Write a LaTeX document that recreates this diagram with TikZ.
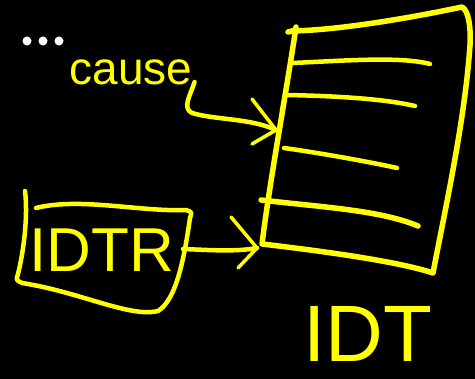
\documentclass[tikz,border=0pt]{standalone}
\usepackage{fontspec}
\setmainfont{Liberation Sans}
\usetikzlibrary{calc}
\definecolor{hl}{HTML}{FFFF00}
\begin{document}
\begin{tikzpicture}[x=1pt,y=-1pt,line cap=round,line join=round,
  ink/.style={draw=hl,line width=5.5pt},
  thin ink/.style={draw=hl,line width=4.5pt},
  wing/.style={draw=hl,line width=3.5pt},
  label/.style={text=hl,inner sep=0pt}]
\fill[black] (0,0) rectangle (475,379);
\useasboundingbox (0,0) rectangle (475,379);
% dots
\fill[white] (27,41) circle (4.5pt) (43,41) circle (4.5pt) (59,41) circle (4.5pt);
% table corners
\coordinate (ttop) at (296,27);
\coordinate (tl) at (288,32);
\coordinate (tr) at (462,7);
\coordinate (br) at (433,273);
\coordinate (bl) at (262,244);
\coordinate (tipA) at (276,130);
\coordinate (tipB) at (257,248);
% table outline
\draw[ink] (tl) -- (292,31) .. controls (340,30) and (410,18) .. (tr)
  .. controls (468,10) and (471,25) .. (470,45)
  .. controls (465,120) and (445,210) .. (br)
  .. controls (400,262) and (330,252) .. (bl)
  .. controls (270,180) and (285,100) .. (ttop);
% rows
\draw[thin ink] (292,63) .. controls (340,61) and (400,56) .. (430,64);
\draw[thin ink] (288,95) .. controls (330,96) and (380,98) .. (415,106);
\draw[thin ink] (284,148) .. controls (320,153) and (370,162) .. (397,168);
\draw[ink] (261,200) .. controls (320,207) and (380,210) .. (418,226);
% labels
\node[label,font=\fontsize{46}{46}\selectfont] (cause) at (131,72) {cause};
\node[label,font=\fontsize{62}{62}\selectfont] (idtr) at (102,250) {IDTR};
\node[label,font=\fontsize{80}{80}\selectfont] (idt) at (368,334) {IDT};
% cause arrow
\coordinate (causeEnd) at ($(cause.east)+(2,10)$);
\draw[thin ink] (causeEnd) .. controls (190,96) and (182,108) .. (192,113)
  .. controls (215,120) and (250,118) .. (tipA);
\draw[wing] (252,99) -- (tipA) -- (252,144);
% IDTR box
\draw[thin ink] (36,208) .. controls (80,197) and (140,212) .. (186,210)
  .. controls (192,212) .. (190,218)
  .. controls (184,260) and (176,300) .. (158,311)
  .. controls (130,318) and (80,292) .. (22,283)
  .. controls (16,280) .. (18,274)
  .. controls (24,250) and (28,215) .. (25,191);
\coordinate (boxR) at (183,249);
\draw[thin ink] (boxR) .. controls (210,250) and (235,252) .. (tipB);
\draw[wing] (231,217) -- (tipB) -- (238,268);
\end{tikzpicture}
\end{document}
